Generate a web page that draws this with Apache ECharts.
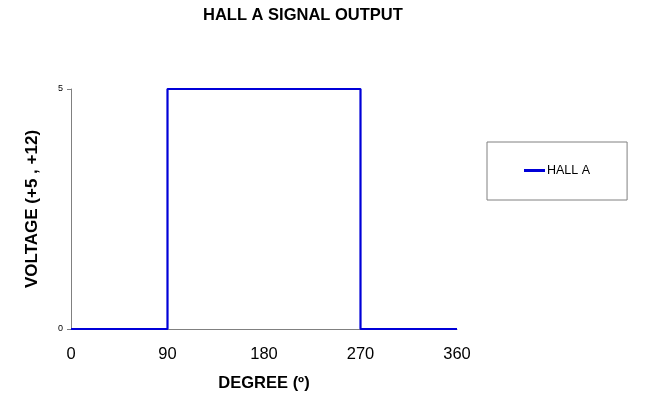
<!DOCTYPE html>
<html>
<head>
<meta charset="utf-8">
<style>html,body{margin:0;padding:0;background:#fff}#c{width:650px;height:408px}</style>
<script src="https://cdn.jsdelivr.net/npm/echarts@6/dist/echarts.min.js"></script>
</head>
<body>
<div id="c"></div>
<script>
var degrees = [0, 90, 90, 270, 270, 360];
var voltage = [0, 0, 5, 5, 0, 0];
var seriesName = 'HALL A';
var titleText = 'HALL A SIGNAL OUTPUT';
var xName = 'DEGREE (º)';
var yName = 'VOLTAGE (+5 , +12)';

var chart = echarts.init(document.getElementById('c'));
var font = 'Liberation Sans, Arial, sans-serif';
chart.setOption({
  animation: false,
  backgroundColor: '#fff',
  textStyle: {fontFamily: font},
  title: {
    text: titleText, left: 203, top: 7, padding: 0,
    textStyle: {fontFamily: font, fontSize: 16.5, fontWeight: 'bold', color: '#000'}
  },
  legend: {
    left: 487, top: 142, orient: 'vertical',
    padding: [22, 37, 23, 37],
    borderColor: '#808080', borderWidth: 1, backgroundColor: '#fff',
    itemWidth: 21, itemHeight: 3, icon: 'rect',
    textStyle: {fontFamily: font, fontSize: 12.5, color: '#000', padding: [0, 0, 0, -3]},
    data: [seriesName]
  },
  grid: {left: 71, right: 193, top: 89, bottom: 79, containLabel: false},
  xAxis: {
    type: 'value', min: 0, max: 360, interval: 90,
    name: xName, nameLocation: 'middle', nameGap: 46,
    nameTextStyle: {fontFamily: font, fontSize: 16.5, fontWeight: 'bold', color: '#000'},
    axisLine: {show: true, lineStyle: {color: '#808080', width: 1}},
    axisTick: {show: false},
    splitLine: {show: false},
    axisLabel: {fontFamily: font, fontSize: 16.5, color: '#000', margin: 17}
  },
  yAxis: {
    type: 'value', min: 0, max: 5, interval: 5,
    name: yName, nameLocation: 'middle', nameGap: 30,
    nameTextStyle: {fontFamily: font, fontSize: 17, fontWeight: 'bold', color: '#000'},
    axisLine: {show: true, lineStyle: {color: '#808080', width: 1}},
    axisTick: {show: true, length: 4, lineStyle: {color: '#808080'}},
    splitLine: {show: false},
    axisLabel: {fontFamily: font, fontSize: 9, color: '#000', margin: 8}
  },
  series: [{
    name: seriesName, type: 'line', showSymbol: false, symbol: 'none',
    itemStyle: {color: '#0000d8'},
    lineStyle: {color: '#0000d8', width: 2.2},
    data: degrees.map(function (d, i) { return [d, voltage[i]]; })
  }]
});
</script>
</body>
</html>
